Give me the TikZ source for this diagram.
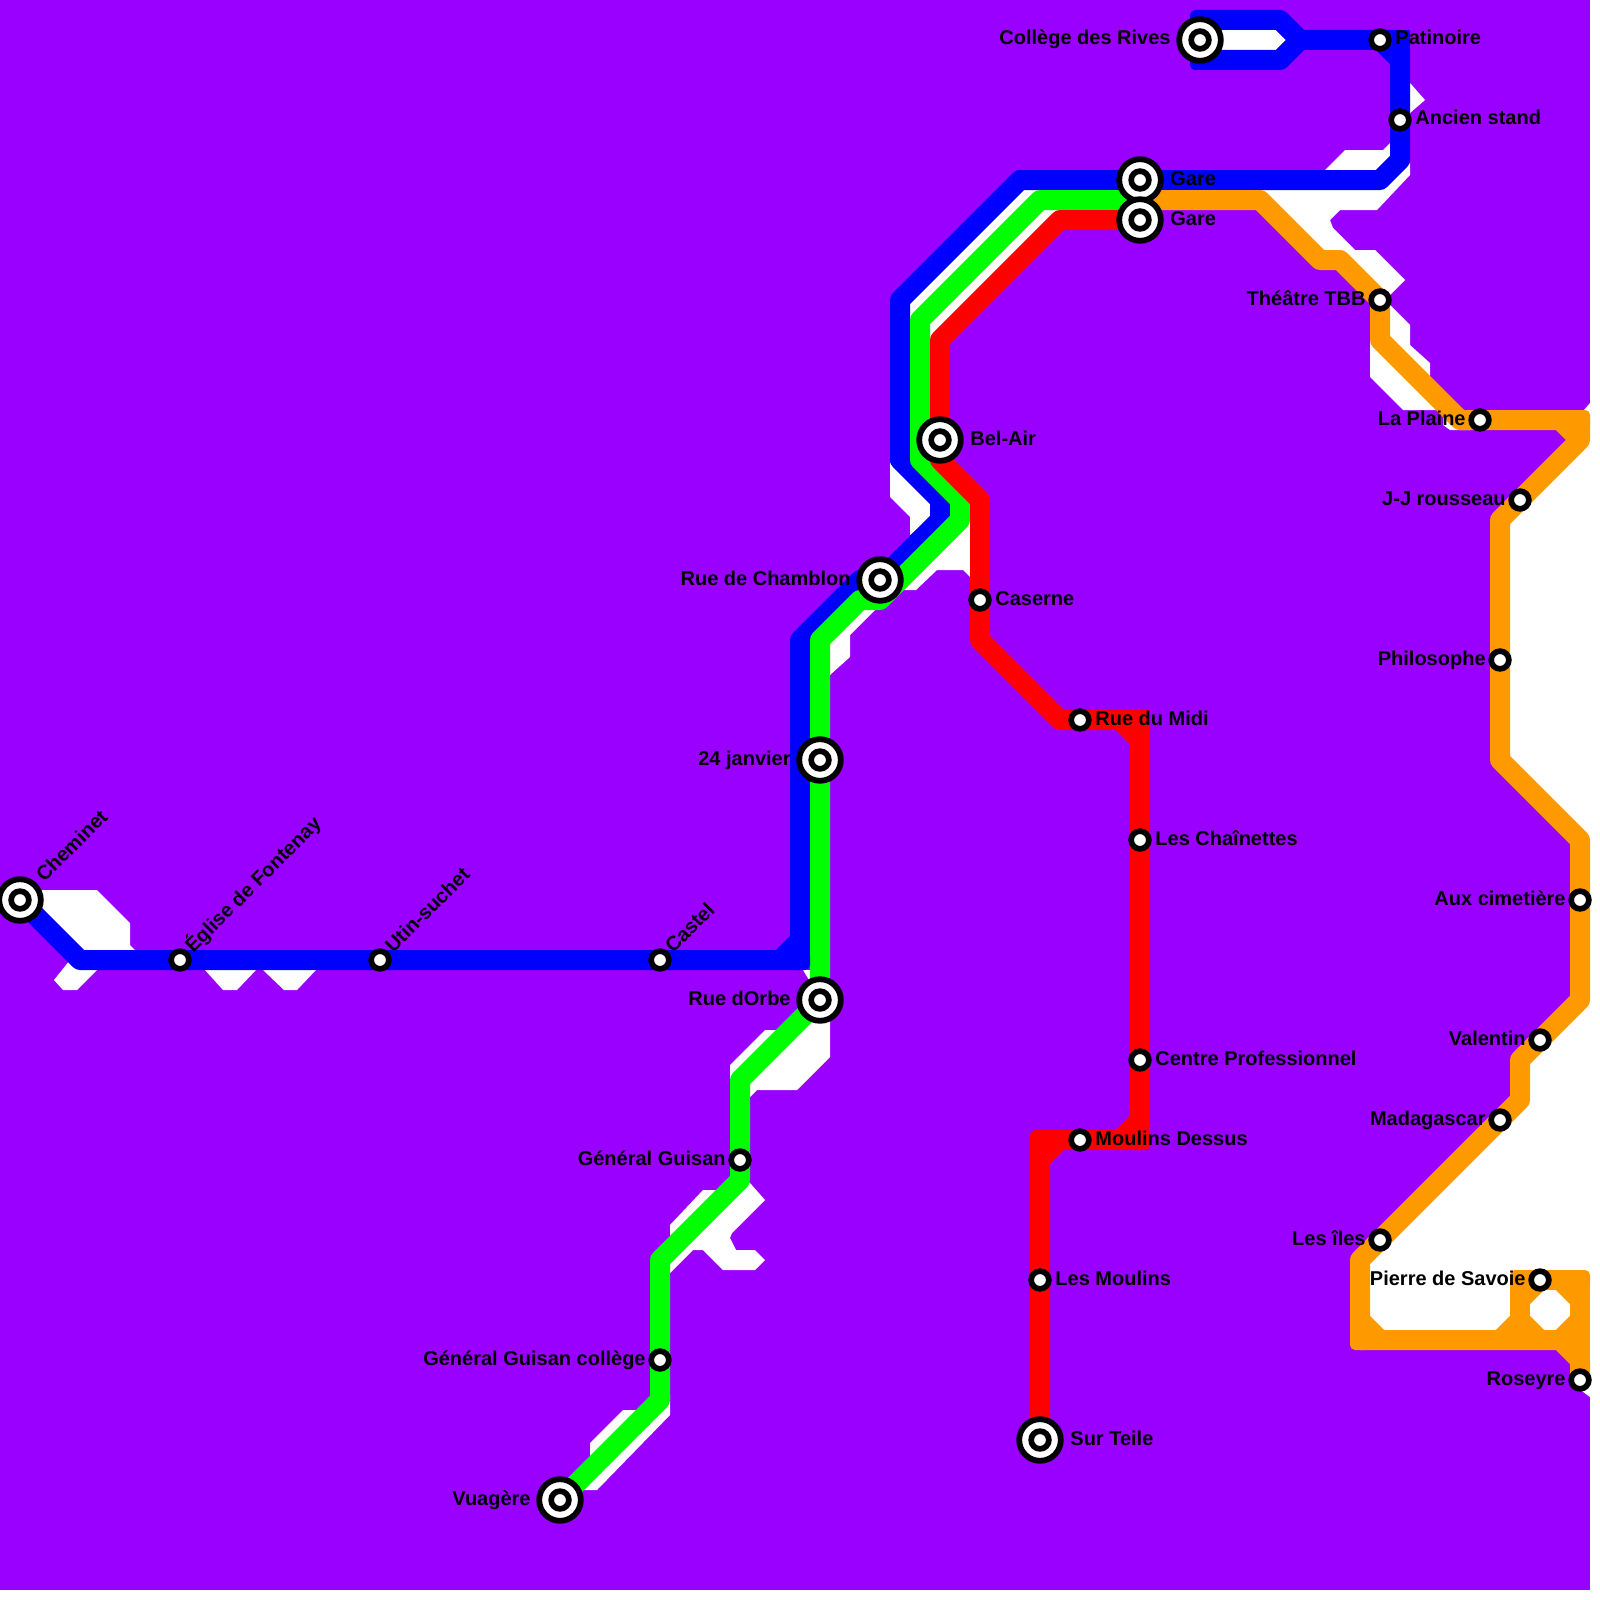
\documentclass[tikz,border=0pt]{standalone}
\usepackage{fontspec}
\setmainfont{Liberation Sans}
\usetikzlibrary{calc}
\definecolor{mapback}{HTML}{9900FF}
\definecolor{lineblue}{HTML}{0000FF}
\definecolor{linegreen}{HTML}{00FF00}
\definecolor{linered}{HTML}{FF0000}
\definecolor{lineorange}{HTML}{FF9900}
\tikzset{
  route/.style={line width=10pt, line join=round},
  stopdot/.style={circle, draw=black, fill=white, line width=2.85pt, minimum size=8.85pt, inner sep=0pt},
  stopring/.style={circle, draw=black, fill=white, line width=2.9pt, minimum size=20.8pt, inner sep=0pt},
  lbl/.style={font=\bfseries, inner sep=0pt, text=black}
}
\begin{document}
\begin{tikzpicture}[x=0.5pt,y=-0.5pt]
  \useasboundingbox (0,0) rectangle (1600,1600);
  \fill[white] (0,0) rectangle (1600,1600);
  \fill[mapback] (0,0) rectangle (1590,1590);
  % stops
  \foreach \n/\x/\y in {cheminet/20/900,eglise/180/960,utin/380/960,castel/660/960,
    orbe/820/1000,janvier/820/760,chamblon/880/580,belair/940/440,gareb/1140/180,garer/1140/220,
    college/1200/40,patinoire/1380/40,ancien/1400/120,theatre/1380/300,plaine/1480/420,
    rousseau/1520/500,philosophe/1500/660,cimetiere/1580/900,valentin/1540/1040,madagascar/1500/1120,
    iles/1380/1240,savoie/1540/1280,roseyre/1580/1380,caserne/980/600,midi/1080/720,
    chainettes/1140/840,centre/1140/1060,dessus/1080/1140,moulins/1040/1280,teile/1040/1440,
    guisan/740/1160,guisanc/660/1360,vuagere/560/1500}
    { \coordinate (\n) at (\x,\y); }
  % white patches
  \fill[white] (30,890)--(97,890)--(130,923)--(130,945)--(140,955)--(80,960)--(30,905)--cycle;
  \fill[white] (70,960)--(54,980)--(63,990)--(77,990)--(97,970)--(80,960)--cycle;
  \fill[white] (205,960)--(205,970)--(223,990)--(237,990)--(256,970)--(256,960)--cycle;
  \fill[white] (263,960)--(263,970)--(284,990)--(297,990)--(316,970)--(316,960)--cycle;
  \fill[white] (803,970)--(812,970)--(812,985)--cycle;
  \fill[white] (730,1065)--(765,1030)--(790,1030)--(740,1080)--(730,1080)--cycle;
  \fill[white] (820,1000)--(830,1000)--(830,1057)--(797,1090)--(757,1090)--(750,1097)--(750,1070)--cycle;
  \fill[white] (670,1225)--(703,1190)--(730,1190)--(660,1260)--(670,1250)--cycle;
  \fill[white] (750,1183)--(765,1200)--(732,1233)--(730,1238)--(736,1250)--(755,1250)--(765,1260)
    --(755,1270)--(723,1270)--(703,1250)--(693,1250)--(670,1273)--(670,1240)--(740,1175)--cycle;
  \fill[white] (590,1443)--(623,1410)--(640,1410)--(590,1460)--cycle;
  \fill[white] (670,1395)--(670,1415)--(597,1490)--(583,1490)--(570,1480)--cycle;
  \fill[white] (890,463)--(890,497)--(910,517)--(910,535)--(940,510)--(900,465)--cycle;
  \fill[white] (970,515)--(970,577)--(963,570)--(937,570)--(916,590)--(900,590)--(960,515)--cycle;
  \fill[white] (865,605)--(875,610)--(850,635)--(850,657)--(830,675)--(825,640)--cycle;
  \fill[white] (905,300)--(905,330)--(1045,190)--(1045,185)--(1020,185)--cycle;
  \fill[white] (925,320)--(925,350)--(1065,210)--(1065,205)--(1040,205)--cycle;
  \fill[white] (1200,30)--(1276,30)--(1286,40)--(1276,50)--(1200,50)--cycle;
  \fill[white] (1405,83)--(1410,83)--(1425,100)--(1410,113)--(1405,113)--cycle;
  \fill[white] (1325,170)--(1345,150)--(1383,150)--(1390,143)--(1395,157)--(1377,175)--cycle;
  \fill[white] (1263,185)--(1385,185)--(1410,163)--(1410,175)--(1377,210)--(1340,210)--(1330,220)--(1333,228)
    --(1355,250)--(1375,250)--(1405,280)--(1392,293)--(1385,300)--(1345,255)--(1320,255)--(1260,195)--cycle;
  \fill[white] (1385,300)--(1410,325)--(1410,345)--(1430,363)--(1430,390)--(1380,340)--cycle;
  \fill[white] (1370,340)--(1370,377)--(1403,410)--(1443,410)--(1443,425)--(1450,430)--(1470,430)--(1470,420)--cycle;
  \fill[white] (1590,430)--(1500,520)--(1500,760)--(1590,850)--cycle;
  \fill[white] (1590,990)--(1520,1060)--(1520,1100)--(1360,1260)--(1360,1340)--(1590,1340)--cycle;
  \fill[white] (1590,403)--(1590,417)--(1584,410)--cycle;
  \fill[white] (1590,1380)--(1590,1397)--(1578,1388)--cycle;
  % blue line
  \draw[route,lineblue] (cheminet)--(80,960)--(eglise)--(utin)--(castel)--(800,960)--(800,640)--(860,580)
    --(chamblon)--(940,520)--(940,500)--(900,460)--(900,300)--(1020,180)--(gareb)--(1380,180)--(1400,160)
    --(ancien)--(1400,40)--(patinoire)--(1300,40)--(1280,20)--(1200,20)--(college)--(1200,60)--(1280,60)--(1300,40);
  \draw[route,lineblue] (780,960)--(800,940);
  \draw[route,lineblue] (1380,40)--(1400,60);
  % green line
  \draw[route,linegreen] (garer)++(0,-20)--(1040,200)--(920,320)--(920,460)--(960,500)--(960,520)--(880,600)
    --(860,600)--(820,640)--(janvier)--(orbe)--(740,1080)--(guisan)--(740,1180)--(660,1260)--(guisanc)
    --(660,1400)--(vuagere);
  % red line
  \draw[route,linered] (garer)--(1060,220)--(940,340)--(belair)--(940,460)--(980,500)--(caserne)--(980,640)
    --(1060,720)--(midi)--(1140,720)--(chainettes)--(centre)--(1140,1140)--(dessus)--(1040,1140)--(moulins)--(teile);
  \draw[route,linered] (1120,720)--(1140,740);
  \draw[route,linered] (1140,1120)--(1120,1140);
  \draw[route,linered] (1060,1140)--(1040,1160);
  % orange line
  \draw[route,lineorange] (gareb)++(0,20)--(1260,200)--(1320,260)--(1340,260)--(theatre)--(1380,340)--(1460,420)
    --(plaine)--(1580,420)--(1580,440)--(rousseau)--(1500,520)--(philosophe)--(1500,760)--(1580,840)--(cimetiere)
    --(1580,1000)--(valentin)--(1520,1060)--(1520,1100)--(madagascar)--(iles)--(1360,1260)--(1360,1340)--(1560,1340)
    --(1580,1360)--(roseyre);
  \draw[route,lineorange] (1520,1340)--(1520,1280)--(savoie)--(1580,1280)--(1580,1360);
  \foreach \a/\b/\c/\d in {1560/420/1580/440,1360/1320/1380/1340,1500/1340/1520/1320,1520/1300/1540/1280,
    1560/1280/1580/1300,1580/1320/1560/1340,1540/1340/1520/1320}
    { \draw[route,lineorange] (\a,\b)--(\c,\d); }
  % corners
  \foreach \x/\y in {1580/420,1360/1340,1520/1280,1580/1280}
    { \fill[lineorange,rounded corners=2.5pt,shift={(\x,\y)}] (-10,-10) rectangle (10,10); }
  \foreach \x/\y in {800/960,1200/20,1200/60}
    { \fill[lineblue,rounded corners=2.5pt,shift={(\x,\y)}] (-10,-10) rectangle (10,10); }
  \foreach \x/\y in {1140/1140,1040/1140}
    { \fill[linered,rounded corners=2.5pt,shift={(\x,\y)}] (-10,-10) rectangle (10,10); }
  \fill[lineblue,shift={(1400,40)}] (-10,-10) rectangle (10,10);
  \fill[linered,shift={(1140,720)}] (-10,-10) rectangle (10,10);
  % big rings
  \foreach \n in {cheminet,orbe,janvier,chamblon,belair,gareb,garer,college,teile,vuagere}
    { \node[stopring] (\n-ring) at (\n) {}; }
  \foreach \n in {cheminet,eglise,utin,castel,orbe,janvier,chamblon,belair,gareb,garer,college,patinoire,
    ancien,theatre,plaine,rousseau,philosophe,cimetiere,valentin,madagascar,iles,savoie,roseyre,caserne,
    midi,chainettes,centre,dessus,moulins,teile,guisan,guisanc,vuagere}
    { \node[stopdot] (\n-dot) at (\n) {}; }
  % labels
  \foreach \n/\t in {patinoire/Patinoire,ancien/Ancien stand,caserne/Caserne,midi/Rue du Midi,
    chainettes/Les Chaînettes,centre/Centre Professionnel,dessus/Moulins Dessus,moulins/Les Moulins}
    { \node[lbl,anchor=base west] (\n-lbl) at ($(\n)+(15,5)$) {\t}; }
  \foreach \n/\t in {theatre/Théâtre TBB,plaine/La Plaine,rousseau/J-J rousseau,philosophe/Philosophe,
    cimetiere/Aux cimetière,valentin/Valentin,madagascar/Madagascar,iles/Les îles,savoie/Pierre de Savoie,
    roseyre/Roseyre,guisan/Général Guisan,guisanc/Général Guisan collège}
    { \node[lbl,anchor=base east] (\n-lbl) at ($(\n)+(-14,5)$) {\t}; }
  \foreach \n/\t in {gareb/Gare,garer/Gare,belair/Bel-Air,teile/Sur Teile}
    { \node[lbl,anchor=base west] (\n-lbl) at ($(\n)+(30,5)$) {\t}; }
  \foreach \n/\t in {college/Collège des Rives,chamblon/Rue de Chamblon,janvier/24 janvier,orbe/Rue dOrbe,vuagere/Vuagère}
    { \node[lbl,anchor=base east] (\n-lbl) at ($(\n)+(-29,5)$) {\t}; }
  \node[lbl,anchor=base west,rotate=45] (cheminet-lbl) at ($(cheminet)+(24,-17)$) {Cheminet};
  \foreach \n/\t in {eglise/Église de Fontenay,utin/Utin-suchet,castel/Castel}
    { \node[lbl,anchor=base west,rotate=45] (\n-lbl) at ($(\n)+(13,-6)$) {\t}; }
\end{tikzpicture}
\end{document}
